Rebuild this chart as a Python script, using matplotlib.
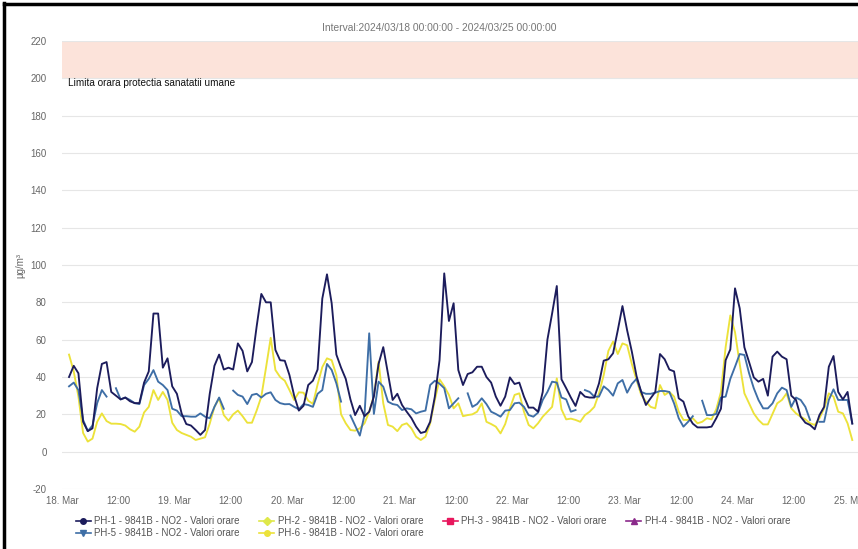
import matplotlib
matplotlib.use("Agg")
import matplotlib.pyplot as plt
import matplotlib.dates as mdates
from matplotlib.lines import Line2D
from matplotlib.ticker import FuncFormatter, MultipleLocator
import numpy as np
import pandas as pd

plt.rcParams['font.family'] = ['Liberation Sans', 'DejaVu Sans']
plt.rcParams['axes.unicode_minus'] = False

N = None
ph1 = [40, 46, 42, 16, 11, 12.5, 34, 47, 48, 32, 30, 28, 29, 27, 26, 26, 37, 43, 74, 74, 45, 50, 35, 31,
       20.5, 14.8, 14, 11.6, 9, 11.6, 31, 46, 52, 44, 45, 44, 58, 54, 43, 48, 67, 84.5, 80, 80, 54.5, 49, 48.7, 41,
       30, 22, 24.6, 35.7, 38, 44, 82, 95, 79.5, 52, 45, 39, 28, 19.6, 24.6, 19, 21.4, 29.5, 47, 56, 42, 27.7, 31, 25,
       21.4, 18, 13.4, 10, 10.7, 16, 29.5, 49, 95.5, 70, 79.5, 43.75, 35.7, 41.6, 42.5, 45.5, 45.5, 40, 37, 29.5, 24.6, 29.5,
       39.8, 36.25, 37, 29.5, 23.6, 23.6, 21.4, 32, 60, 74, 88.75, 38.75, 34, 29, 24.5, 32, 29.5, 29, 29, 36.6,
       48.75, 49.5, 52.7, 65, 78, 65, 53.6, 40.5, 32, 25, 28.6, 32, 52.3, 49.5, 44, 43, 28.6, 26.8, 19, 15,
       13, 13, 13, 13.4, 17.9, 23, 49, 54.8, 87.5, 76.8, 55.9, 48, 39.8, 37.5, 39, 30, 50.9, 53.6, 50.9, 49.5,
       30, 27.7, 18.75, 15.5, 14.3, 12, 19.6, 24, 45.5, 51.25, 32, 28, 32, 15]
ph5 = [35, 37, 33, 17, 11, 14, 26, 33, 29.5, N, 34, 28, 29, 27.7, 26, 25.5, 35.7, 39, 43.7, 37.5, 35.7, 33, 23, 22,
       19, 19, 18.75, 18.75, 20.5, 18.75, 17.9, 24, 29, 23, N, 32.7, 30.4, 29.5, 25.5, 30.4, 31, 29, 31, 31.8, 27.7, 26, 25.4, 25.5,
       24, 22.7, 25.5, 25, 24, 31, 33, 47, 43.75, 36.6, 26.8, N, 19.4, 14, 8.6, 19.6, 63.4, 20.2, 37.5, 34.8, 26.8, 25.5, 25, 22.3,
       23.2, 22.7, 20.5, 21.4, 22, 35.7, 38, 36.4, 34, 23.2, 25.9, 28.6, N, 31.25, 24, 25.5, 28.6, 25.5, 21.4, 20.2, 18.75, 22,
       22.3, 25.9, 26.25, 24, 19.6, 18.75, 20.9, 27.7, 32, 37.5, 37, 29, 28, 21.4, 22.3, N, 33, 32, 29.5, 29.5,
       35, 33, 30, 36.6, 38.4, 31.6, 36.25, 39, 32, 31, 31, 31.6, 32.5, 32.5, 32, 25.9, 17.9, 13.4, 16, 19,
       N, 27.3, 19.6, 19.6, 20.2, 29, 29.5, 39, 45.5, 52.3, 51.8, 42, 34, 27.7, 23.2, 23.2, 25.9, 31.25, 34.3, 33,
       24, 29, 27.7, 24, 17, N, 16, 16, 27.7, 33.4, 27.7, 27.7, 27.7, 15.2]
ph6 = [52, 43, 29.5, 10, 5.4, 7, 16, 20.5, 16.4, 15, 15, 14.8, 14, 12, 10.7, 13.4, 21, 24, 33, 27.7, 32, 27.7, 15.5, 11.6,
       10, 9, 8, 6.25, 7, 7.7, 15, 24, 28.6, 19.6, 16.6, 20, 22, 19, 15.5, 15.5, 22, 29.5, 45, 61, 43.75, 40, 38, 33,
       27.7, 31.8, 31.6, 27.3, 25.6, 36, 45.3, 50, 49, 41, 20, 15.2, 11.6, 11.25, 12.5, 15.2, 21.4, 30, 48.2, 25.9, 14.3, 13.4, 11, 14.3,
       15.2, 12.5, 8, 6.25, 8, 15.2, 27.7, 38.75, 35, 30.4, 23.2, 25.9, 19, 19.6, 20, 21.4, 25.9, 16, 14.8, 13.4, 9.8, 14.8,
       23.2, 30.4, 31.25, 21.4, 14.3, 12.5, 15.2, 18.75, 21.4, 24, 39.3, 22.7, 17.3, 17.7, 17, 16, 19.6, 21.4, 24, 31.25,
       41, 54, 59, 52.3, 58, 57, 47, 38.4, 30.4, 26.8, 24, 23.2, 35.7, 30.4, 32, 29.5, 21.4, 17, 17, 17.9,
       15.2, 16, 17.9, 17.3, 22.7, 32, 56, 73, 64, 47, 31.25, 25.9, 20.5, 17, 14.6, 14.6, 20.2, 25.9, 27.7, 31.25,
       23.2, 20.5, 18.75, 17.3, 15.2, 14.3, 17.9, 23.2, 31.25, 29.5, 21.4, 20.5, 15.2, 6.25]

series_names = ["PH-1 - 9841B - NO2 - Valori orare", "PH-2 - 9841B - NO2 - Valori orare",
                "PH-3 - 9841B - NO2 - Valori orare", "PH-4 - 9841B - NO2 - Valori orare",
                "PH-5 - 9841B - NO2 - Valori orare", "PH-6 - 9841B - NO2 - Valori orare"]
series_colors = ["#1c1c5c", "#dfe84a", "#e8175d", "#8b2a8b", "#3e6ea6", "#ece23a"]
series_markers = ["o", "D", "s", "^", "v", "o"]

title_text = "Interval:2024/03/18 00:00:00 - 2024/03/25 00:00:00"
limit_label = "Limita orara protectia sanatatii umane"
y_label = "µg/m³"
limit_low, limit_high = 200, 220

times = pd.date_range("2024-03-18 01:30", periods=168, freq="h")

def arr(v):
    return np.array([np.nan if x is None else x for x in v], dtype=float)

W, H = 858, 549
PX_PER_H = 4.69
fig = plt.figure(figsize=(W / 100, H / 100), dpi=100)
ax = fig.add_axes([62 / W, (H - 489) / H, (W - 62) / W, (489 - 41) / H])

ax.axhspan(limit_low, limit_high, color="#fce3da", zorder=0, lw=0)
ax.plot(times, arr(ph6), color=series_colors[5], lw=1.35, zorder=3)
ax.plot(times, arr(ph5), color=series_colors[4], lw=1.35, zorder=4)
ax.plot(times, arr(ph1), color=series_colors[0], lw=1.35, zorder=5)

t0 = pd.Timestamp("2024-03-18 00:00")
ax.set_xlim(t0, t0 + pd.Timedelta(hours=(W - 62) / PX_PER_H))
ax.set_ylim(-20, 220)
ax.yaxis.set_major_locator(MultipleLocator(20))
ax.grid(axis="y", color="#e6e6e6", lw=0.8)
ax.set_axisbelow(True)
for s in ax.spines.values():
    s.set_visible(False)

ax.xaxis.set_major_locator(mdates.HourLocator(byhour=[0, 12]))
def fmt(x, pos):
    d = mdates.num2date(x)
    return d.strftime("%d. %b") if d.hour == 0 else d.strftime("%H:%M")
ax.xaxis.set_major_formatter(FuncFormatter(fmt))
ax.tick_params(axis="both", length=0, labelsize=7, labelcolor="#666666")
ax.tick_params(axis="y", pad=11)
ax.tick_params(axis="x", pad=5)

ax.text(6 / 796, 200, limit_label, transform=ax.get_yaxis_transform(), fontsize=7.2,
        color="#111111", va="top", ha="left")
fig.text(20 / W, 1 - 265 / H, y_label, rotation=90, fontsize=7, color="#666666", ha="center", va="center")
fig.text(439 / W, 1 - 28 / H, title_text, fontsize=7.4, color="#777777", ha="center", va="center")

handles = [Line2D([0], [0], color=c, marker=m, markersize=4, lw=1.2) for c, m in zip(series_colors, series_markers)]
order = [0, 4, 1, 5, 2, 3]
fig.legend([handles[i] for i in order], [series_names[i] for i in order], loc="upper left",
           bbox_to_anchor=(76 / W, 1 - 516 / H), ncol=4,
           frameon=False, fontsize=7, labelcolor="#555555", handlelength=1.5, handletextpad=0.4,
           columnspacing=2.0, borderaxespad=0, borderpad=0, labelspacing=0.2)

fig.add_artist(Line2D([4 / W, 4 / W], [0, 1 - 3 / H], color="black", lw=2.5))
fig.add_artist(Line2D([4 / W, 1], [1 - 4 / H, 1 - 4 / H], color="black", lw=2.5))

fig.savefig("out.png", dpi=100)
